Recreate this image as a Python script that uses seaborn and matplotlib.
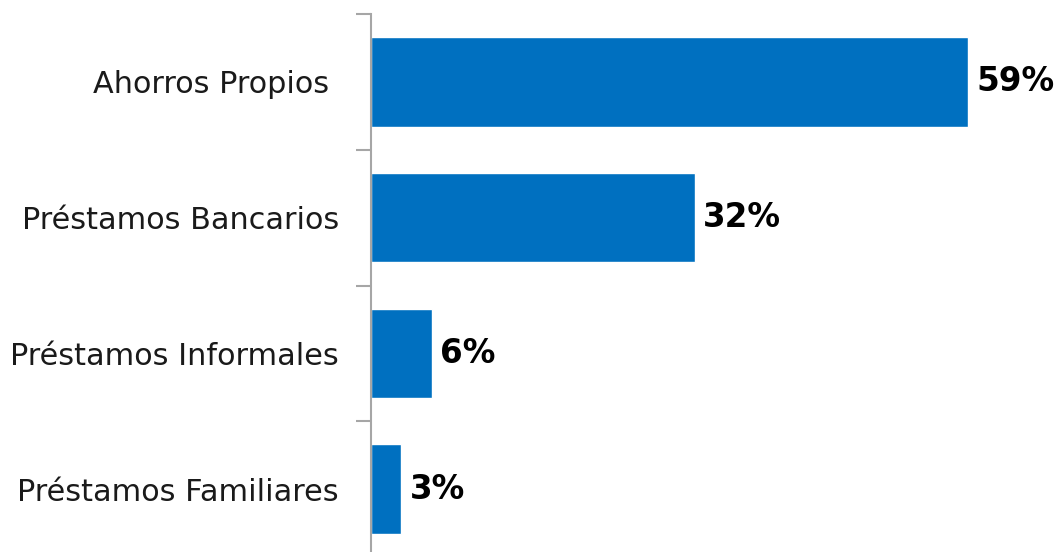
import matplotlib
matplotlib.use("Agg")
import matplotlib.pyplot as plt
import seaborn as sns
import pandas as pd
import numpy as np

categories = ["Ahorros Propios ", "Préstamos Bancarios", "Préstamos Informales", "Préstamos Familiares"]
values = [59, 32, 6, 3]
value_labels = ["59%", "32%", "6%", "3%"]

sns.set_theme(style="white")
plt.rcParams['font.family'] = ['DejaVu Sans']

df = pd.DataFrame({"cat": categories, "val": values})

fig = plt.figure(figsize=(10.57, 5.52), dpi=100)
ax = fig.add_axes([371/1057, -5/552, 658/1057, 543/552])

sns.barplot(data=df, y="cat", x="val", orient="h", color="#0070C0",
            saturation=1, width=0.66, ax=ax)

ax.set_xlim(0, 65)
ax.set_ylim(len(categories) - 0.5, -0.5)
ax.set_xlabel("")
ax.set_ylabel("")
ax.set_xticks([])

for s in ["top", "right", "bottom"]:
    ax.spines[s].set_visible(False)
ax.spines["left"].set_color("#A6A6A6")
ax.spines["left"].set_linewidth(1.5)

ax.set_yticks(range(len(categories)))
ax.set_yticklabels(categories, fontsize=21.8, color="#1a1a1a")
ax.tick_params(axis="y", which="major", length=0, pad=23)
ax.set_yticks(np.arange(-0.5, len(categories), 1.0), minor=True)
ax.tick_params(axis="y", which="minor", length=11, width=1.5, color="#A6A6A6", left=True)

ax.bar_label(ax.containers[0], labels=value_labels, padding=6,
             fontsize=23.5, fontweight="bold", color="black")

fig.savefig("out.png", dpi=100)
